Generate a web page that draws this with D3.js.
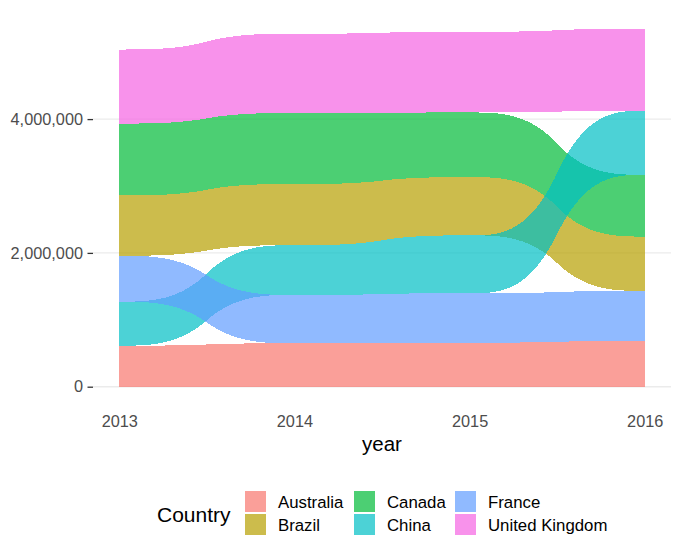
<!DOCTYPE html>
<html><head><meta charset="utf-8">
<script src="https://cdn.jsdelivr.net/npm/d3@7"></script>
<style>
body{margin:0;background:#fff}
svg{display:block}
text{font-family:"Liberation Sans",Arial,Helvetica,sans-serif}
</style>
</head><body><svg id="chart" width="682" height="557"></svg>
<script>
// ---- data ----
const years = [2013, 2014, 2015, 2016];
const countries = ["Australia", "Brazil", "Canada", "China", "France", "United Kingdom"];
const australia = [613000, 649000, 658000, 684000];
const brazil = [902000, 914000, 870000, 812000];
const canada = [1074000, 1061000, 967000, 923000];
const china = [658000, 743000, 865000, 957000];
const france = [686000, 723000, 739000, 748000];
const unitedKingdom = [1107000, 1186000, 1206000, 1227000];
const colors = ["#F8766D", "#B79F00", "#00BA38", "#00BFC4", "#619CFF", "#F564E3"];
const yTicks = [0, 2000000, 4000000];
const xTitle = "year";
const legendTitle = "Country";

const series = [australia, brazil, canada, china, france, unitedKingdom];

// ---- stacking: ascending by value at each year ----
const stacks = countries.map(() => []);
years.forEach((yr, j) => {
  const order = d3.range(countries.length).sort((a, b) => series[a][j] - series[b][j]);
  let cum = 0;
  order.forEach(i => {
    stacks[i][j] = { y0: cum, y1: cum + series[i][j] };
    cum += series[i][j];
  });
});
const maxTotal = d3.max(years.map((_, j) => d3.sum(series, s => s[j])));

const svg = d3.select("#chart");
const panel = { left: 93, right: 671, top: 10.8, bottom: 404.6 };
const xSpan = years[years.length - 1] - years[0];
const x = d3.scaleLinear()
  .domain([years[0] - 0.05 * xSpan, years[years.length - 1] + 0.05 * xSpan])
  .range([panel.left, panel.right]);
const y = d3.scaleLinear()
  .domain([-0.05 * maxTotal, 1.05 * maxTotal])
  .range([panel.bottom, panel.top]);

// gridlines
svg.append("g").selectAll("line").data(yTicks).join("line")
  .attr("x1", panel.left).attr("x2", panel.right)
  .attr("y1", d => y(d)).attr("y2", d => y(d))
  .attr("stroke", "#EBEBEB").attr("stroke-width", 1.4);

// flows
const ease = d3.easeCubicInOut;
const N = 80;
function edge(i, key) {
  const pts = [];
  for (let j = 0; j < years.length - 1; j++) {
    const a = stacks[i][j][key], b = stacks[i][j + 1][key];
    for (let k = (j === 0 ? 0 : 1); k <= N; k++) {
      const t = k / N;
      pts.push([x(years[j] + t * (years[j + 1] - years[j])), y(a + ease(t) * (b - a))]);
    }
  }
  return pts;
}
const line = d3.line();
svg.append("g").selectAll("path").data(countries).join("path")
  .attr("d", (c, i) => {
    const top = edge(i, "y1");
    const bot = edge(i, "y0").reverse();
    return line(top.concat(bot)) + "Z";
  })
  .attr("fill", (c, i) => colors[i])
  .attr("fill-opacity", 0.7)
  .attr("shape-rendering", "crispEdges");

// y axis
const yAxis = svg.append("g").attr("transform", `translate(${panel.left},0)`)
  .call(d3.axisLeft(y).tickValues(yTicks).tickFormat(d3.format(",")).tickSize(5.5).tickPadding(4.5));
yAxis.select(".domain").remove();
yAxis.selectAll(".tick line").attr("stroke", "#333333").attr("stroke-width", 1.3);
yAxis.selectAll(".tick text").attr("fill", "#4D4D4D").style("font-size", "16.3px")
  .style("font-family", '"Liberation Sans",Arial,sans-serif');

// x axis
const xAxis = svg.append("g").attr("transform", `translate(0,${panel.bottom})`)
  .call(d3.axisBottom(x).tickValues(years).tickFormat(d3.format("d")).tickSize(0).tickPadding(11));
xAxis.select(".domain").remove();
xAxis.selectAll(".tick text").attr("fill", "#4D4D4D").style("font-size", "16.3px")
  .style("font-family", '"Liberation Sans",Arial,sans-serif');

// x title
svg.append("text").attr("x", (panel.left + panel.right) / 2).attr("y", 451)
  .attr("text-anchor", "middle").attr("fill", "#000").style("font-size", "20.5px").text(xTitle);

// legend
svg.append("text").attr("x", 157).attr("y", 521.5).attr("fill", "#000")
  .style("font-size", "21px").text(legendTitle);
const colX = [245, 354, 455];
const rowY = [491, 514];
const lg = svg.append("g").selectAll("g").data(countries).join("g")
  .attr("transform", (c, i) => `translate(${colX[Math.floor(i / 2)]},${rowY[i % 2]})`);
lg.append("rect").attr("width", 21).attr("height", 21)
  .attr("fill", (c, i) => colors[i]).attr("fill-opacity", 0.7);
lg.append("text").attr("x", 33).attr("y", 17.3).attr("fill", "#000")
  .style("font-size", "16.8px").text(c => c);
</script>
</body></html>
